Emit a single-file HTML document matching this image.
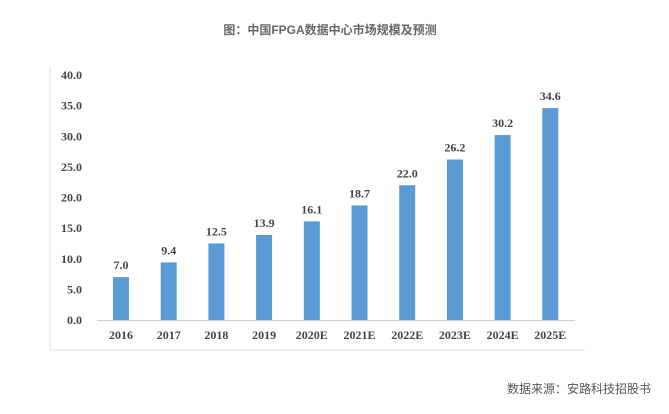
<!DOCTYPE html>
<html><head><meta charset="utf-8"><style>
body{margin:0;background:#fff;width:669px;height:409px;overflow:hidden}
svg text{font-family:"Liberation Serif","Noto Serif CJK SC",serif}
</style></head><body>
<svg width="669" height="409">
<text x="330" y="34" text-anchor="middle" font-size="12" fill="#666" font-weight="bold" style="font-family:'Liberation Sans','Noto Sans CJK SC',sans-serif">图：中国FPGA数据中心市场规模及预测</text>
<line x1="50" y1="67" x2="50" y2="350" stroke="#ddd"/>
<line x1="50" y1="350" x2="585" y2="350" stroke="#ddd"/>
<line x1="97" y1="320.5" x2="575" y2="320.5" stroke="#d0d0d0"/>
<g id="ticks"></g><g id="bars"></g>
<text x="651" y="393" text-anchor="end" font-size="12" fill="#555" style="font-family:'Liberation Sans','Noto Sans CJK SC',sans-serif">数据来源：安路科技招股书</text>
</svg>
<script>
const categories=["2016","2017","2018","2019","2020E","2021E","2022E","2023E","2024E","2025E"];
const values=[7.0,9.4,12.5,13.9,16.1,18.7,22.0,26.2,30.2,34.6];
const yTicks=[0,5,10,15,20,25,30,35,40];
const NS="http://www.w3.org/2000/svg";
const y=v=>320-v*245/40;
const x=i=>121+i*47.7;
const tg=document.getElementById('ticks'),bg=document.getElementById('bars');
yTicks.forEach(t=>{const e=document.createElementNS(NS,'text');


e.setAttribute('x',82);e.setAttribute('y',y(t)+4);e.setAttribute('text-anchor','end');
e.setAttribute('font-size','12');e.setAttribute('font-weight','bold');e.setAttribute('fill','#444');
e.textContent=t.toFixed(1);tg.appendChild(e);});
categories.forEach((c,i)=>{const v=values[i];
const r=document.createElementNS(NS,'rect');


r.setAttribute('x',x(i)-8);r.setAttribute('y',y(v));r.setAttribute('width',16);r.setAttribute('height',320-y(v));r.setAttribute('fill','#5b9bd5');bg.appendChild(r);
const l=document.createElementNS(NS,'text');


l.setAttribute('x',x(i));l.setAttribute('y',y(v)-8);l.setAttribute('text-anchor','middle');l.setAttribute('font-size','12');l.setAttribute('font-weight','bold');l.setAttribute('fill','#444');
l.textContent=v.toFixed(1);bg.appendChild(l);
const k=document.createElementNS(NS,'text');


k.setAttribute('x',x(i));k.setAttribute('y',339);k.setAttribute('text-anchor','middle');k.setAttribute('font-size','12');k.setAttribute('font-weight','bold');k.setAttribute('fill','#444');
k.textContent=c;bg.appendChild(k);});
</script>
</body></html>
